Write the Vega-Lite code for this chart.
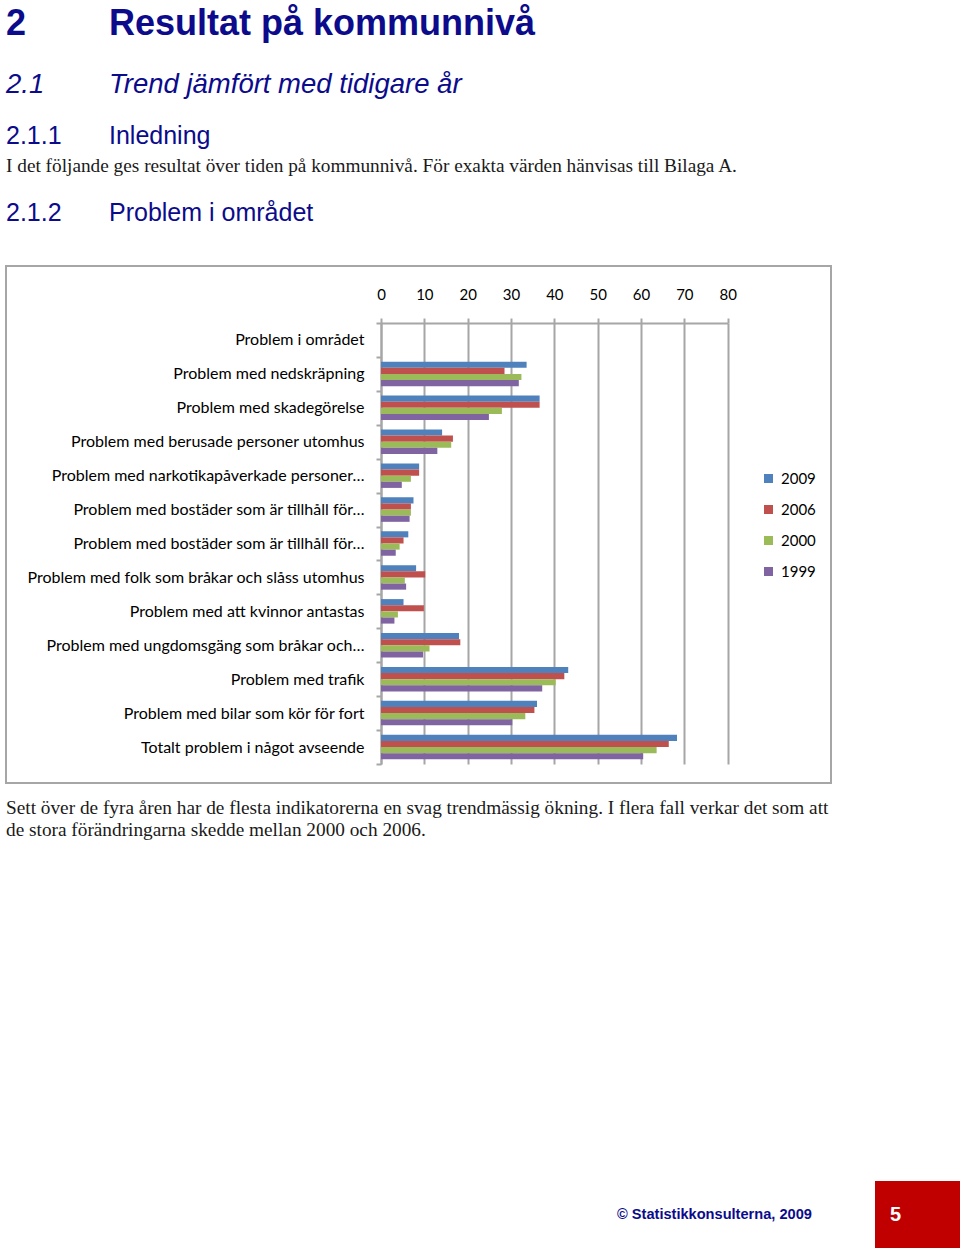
{
  "$schema": "https://vega.github.io/schema/vega-lite/v6.json",
  "padding": {"left": 5, "top": 0, "right": 0, "bottom": 0},
  "bounds": "flush",
  "spacing": 0,
  "config": {"view": {"stroke": null}, "concat": {"spacing": 0}},
  "vconcat": [
    {
      "width": 955, "height": 47,
      "data": {"values": [{"del": "nr", "text": "2"}, {"del": "rubrik", "text": "Resultat på kommunnivå"}]},
      "mark": {"type": "text", "align": "left", "baseline": "middle", "font": "Liberation Sans", "fontSize": 36, "fontWeight": "bold", "color": "#0b0b8c"},
      "encoding": {
        "x": {"field": "del", "type": "nominal", "scale": {"type": "point", "domain": ["nr", "rubrik"], "range": [0, 103], "padding": 0}, "axis": null},
        "text": {"field": "text"}
      }
    },
    {
      "width": 955, "height": 76,
      "data": {"values": [{"del": "nr", "text": "2.1"}, {"del": "rubrik", "text": "Trend jämfört med tidigare år"}]},
      "mark": {"type": "text", "align": "left", "baseline": "middle", "font": "Liberation Sans", "fontSize": 27.5, "fontStyle": "italic", "color": "#0b0b8c"},
      "encoding": {
        "x": {"field": "del", "type": "nominal", "scale": {"type": "point", "domain": ["nr", "rubrik"], "range": [0, 103], "padding": 0}, "axis": null},
        "text": {"field": "text"}
      }
    },
    {
      "width": 955, "height": 26,
      "data": {"values": [{"del": "nr", "text": "2.1.1"}, {"del": "rubrik", "text": "Inledning"}]},
      "mark": {"type": "text", "align": "left", "baseline": "middle", "font": "Liberation Sans", "fontSize": 25, "color": "#0b0b8c"},
      "encoding": {
        "x": {"field": "del", "type": "nominal", "scale": {"type": "point", "domain": ["nr", "rubrik"], "range": [0, 103], "padding": 0}, "axis": null},
        "text": {"field": "text"}
      }
    },
    {
      "width": 955, "height": 34,
      "data": {"values": [{"del": "nr", "text": "I det följande ges resultat över tiden på kommunnivå. För exakta värden hänvisas till Bilaga A."}]},
      "mark": {"type": "text", "align": "left", "baseline": "middle", "font": "Liberation Serif", "fontSize": 19.3, "color": "#1a1a1a"},
      "encoding": {
        "x": {"field": "del", "type": "nominal", "scale": {"type": "point", "domain": ["nr", "rubrik"], "range": [0, 103], "padding": 0}, "axis": null},
        "text": {"field": "text"}
      }
    },
    {
      "width": 955, "height": 60,
      "data": {"values": [{"del": "nr", "text": "2.1.2"}, {"del": "rubrik", "text": "Problem i området"}]},
      "mark": {"type": "text", "align": "left", "baseline": "middle", "font": "Liberation Sans", "fontSize": 25, "color": "#0b0b8c"},
      "encoding": {
        "x": {"field": "del", "type": "nominal", "scale": {"type": "point", "domain": ["nr", "rubrik"], "range": [0, 103], "padding": 0}, "axis": null},
        "text": {"field": "text"}
      }
    },
    {
      "width": 955, "height": 23,
      "data": {"values": []},
      "mark": {"type": "text"},
      "encoding": {}
    },
    {
      "width": 825, "height": 517,
      "view": {"stroke": "#A6A6A6", "strokeWidth": 2},
      "data": {"values": [
        {"kategori": "02 Problem med nedskräpning", "år": "2009", "andel": 33.6},
        {"kategori": "02 Problem med nedskräpning", "år": "2006", "andel": 28.5},
        {"kategori": "02 Problem med nedskräpning", "år": "2000", "andel": 32.4},
        {"kategori": "02 Problem med nedskräpning", "år": "1999", "andel": 31.8},
        {"kategori": "03 Problem med skadegörelse", "år": "2009", "andel": 36.6},
        {"kategori": "03 Problem med skadegörelse", "år": "2006", "andel": 36.6},
        {"kategori": "03 Problem med skadegörelse", "år": "2000", "andel": 27.9},
        {"kategori": "03 Problem med skadegörelse", "år": "1999", "andel": 24.9},
        {"kategori": "04 Problem med berusade personer utomhus", "år": "2009", "andel": 14.1},
        {"kategori": "04 Problem med berusade personer utomhus", "år": "2006", "andel": 16.6},
        {"kategori": "04 Problem med berusade personer utomhus", "år": "2000", "andel": 16.2},
        {"kategori": "04 Problem med berusade personer utomhus", "år": "1999", "andel": 13.0},
        {"kategori": "05 Problem med narkotikapåverkade personer…", "år": "2009", "andel": 8.8},
        {"kategori": "05 Problem med narkotikapåverkade personer…", "år": "2006", "andel": 8.8},
        {"kategori": "05 Problem med narkotikapåverkade personer…", "år": "2000", "andel": 6.9},
        {"kategori": "05 Problem med narkotikapåverkade personer…", "år": "1999", "andel": 4.8},
        {"kategori": "06 Problem med bostäder som är tillhåll för…", "år": "2009", "andel": 7.5},
        {"kategori": "06 Problem med bostäder som är tillhåll för…", "år": "2006", "andel": 6.9},
        {"kategori": "06 Problem med bostäder som är tillhåll för…", "år": "2000", "andel": 6.9},
        {"kategori": "06 Problem med bostäder som är tillhåll för…", "år": "1999", "andel": 6.6},
        {"kategori": "07 Problem med bostäder som är tillhåll för…", "år": "2009", "andel": 6.3},
        {"kategori": "07 Problem med bostäder som är tillhåll för…", "år": "2006", "andel": 5.2},
        {"kategori": "07 Problem med bostäder som är tillhåll för…", "år": "2000", "andel": 4.3},
        {"kategori": "07 Problem med bostäder som är tillhåll för…", "år": "1999", "andel": 3.4},
        {"kategori": "08 Problem med folk som bråkar och slåss utomhus", "år": "2009", "andel": 8.1},
        {"kategori": "08 Problem med folk som bråkar och slåss utomhus", "år": "2006", "andel": 10.2},
        {"kategori": "08 Problem med folk som bråkar och slåss utomhus", "år": "2000", "andel": 5.5},
        {"kategori": "08 Problem med folk som bråkar och slåss utomhus", "år": "1999", "andel": 5.8},
        {"kategori": "09 Problem med att kvinnor antastas", "år": "2009", "andel": 5.2},
        {"kategori": "09 Problem med att kvinnor antastas", "år": "2006", "andel": 9.9},
        {"kategori": "09 Problem med att kvinnor antastas", "år": "2000", "andel": 3.9},
        {"kategori": "09 Problem med att kvinnor antastas", "år": "1999", "andel": 3.1},
        {"kategori": "10 Problem med ungdomsgäng som bråkar och…", "år": "2009", "andel": 18.0},
        {"kategori": "10 Problem med ungdomsgäng som bråkar och…", "år": "2006", "andel": 18.3},
        {"kategori": "10 Problem med ungdomsgäng som bråkar och…", "år": "2000", "andel": 11.2},
        {"kategori": "10 Problem med ungdomsgäng som bråkar och…", "år": "1999", "andel": 9.7},
        {"kategori": "11 Problem med trafik", "år": "2009", "andel": 43.2},
        {"kategori": "11 Problem med trafik", "år": "2006", "andel": 42.3},
        {"kategori": "11 Problem med trafik", "år": "2000", "andel": 40.3},
        {"kategori": "11 Problem med trafik", "år": "1999", "andel": 37.2},
        {"kategori": "12 Problem med bilar som kör för fort", "år": "2009", "andel": 36.0},
        {"kategori": "12 Problem med bilar som kör för fort", "år": "2006", "andel": 35.4},
        {"kategori": "12 Problem med bilar som kör för fort", "år": "2000", "andel": 33.3},
        {"kategori": "12 Problem med bilar som kör för fort", "år": "1999", "andel": 30.3},
        {"kategori": "13 Totalt problem i något avseende", "år": "2009", "andel": 68.3},
        {"kategori": "13 Totalt problem i något avseende", "år": "2006", "andel": 66.4},
        {"kategori": "13 Totalt problem i något avseende", "år": "2000", "andel": 63.6},
        {"kategori": "13 Totalt problem i något avseende", "år": "1999", "andel": 60.5}
      ]},
      "mark": {"type": "bar"},
      "encoding": {
        "y": {
          "field": "kategori", "type": "nominal",
          "scale": {
            "domain": [
              "01 Problem i området",
              "02 Problem med nedskräpning",
              "03 Problem med skadegörelse",
              "04 Problem med berusade personer utomhus",
              "05 Problem med narkotikapåverkade personer…",
              "06 Problem med bostäder som är tillhåll för…",
              "07 Problem med bostäder som är tillhåll för…",
              "08 Problem med folk som bråkar och slåss utomhus",
              "09 Problem med att kvinnor antastas",
              "10 Problem med ungdomsgäng som bråkar och…",
              "11 Problem med trafik",
              "12 Problem med bilar som kör för fort",
              "13 Totalt problem i något avseende"
            ],
            "range": [57, 498], "paddingInner": 0, "paddingOuter": 0
          },
          "axis": {
            "orient": "left", "offset": -375, "title": null,
            "labelExpr": "substring(datum.label, 3)",
            "tickBand": "extent", "tickSize": 5, "tickColor": "#A6A6A6", "tickWidth": 2,
            "domainColor": "#A6A6A6", "domainWidth": 2,
            "labelPadding": 12, "labelFont": "Lato", "labelFontSize": 16, "labelColor": "#000000", "labelLimit": 0,
            "grid": false
          }
        },
        "x": {
          "field": "andel", "type": "quantitative",
          "scale": {"domain": [0, 80], "range": [375, 721.7], "nice": false},
          "axis": {
            "orient": "top", "offset": -57, "title": null,
            "values": [0, 10, 20, 30, 40, 50, 60, 70, 80],
            "grid": true, "gridColor": "#A6A6A6", "gridWidth": 2,
            "domainColor": "#A6A6A6", "domainWidth": 2,
            "tickColor": "#A6A6A6", "tickWidth": 2, "tickSize": 5,
            "labelPadding": 16, "labelFont": "Lato", "labelFontSize": 15, "labelColor": "#000000", "labelFlush": false
          }
        },
        "yOffset": {
          "field": "år", "type": "nominal", "sort": ["2009", "2006", "2000", "1999"],
          "scale": {"paddingInner": 0, "paddingOuter": 0.77}
        },
        "color": {
          "field": "år", "type": "nominal",
          "scale": {"domain": ["2009", "2006", "2000", "1999"], "range": ["#4F81BD", "#C0504D", "#9BBB59", "#8064A2"]},
          "legend": {
            "orient": "none", "legendX": 755, "legendY": 471, "title": null, "padding": 0,
            "symbolType": "square", "symbolSize": 81, "symbolStrokeWidth": 0,
            "labelFont": "Lato", "labelFontSize": 15, "labelColor": "#000000", "rowPadding": 15, "labelOffset": 5
          }
        }
      }
    },
    {
      "width": 955, "height": 398,
      "data": {"values": [
        {"del": "nr", "rad": "1", "text": "Sett över de fyra åren har de flesta indikatorerna en svag trendmässig ökning. I flera fall verkar det som att"},
        {"del": "nr", "rad": "2", "text": "de stora förändringarna skedde mellan 2000 och 2006."}
      ]},
      "mark": {"type": "text", "align": "left", "baseline": "middle", "font": "Liberation Serif", "fontSize": 19.3, "color": "#1a1a1a"},
      "encoding": {
        "x": {"field": "del", "type": "nominal", "scale": {"type": "point", "domain": ["nr", "rubrik"], "range": [0, 103], "padding": 0}, "axis": null},
        "y": {"field": "rad", "type": "nominal", "scale": {"type": "point", "domain": ["1", "2"], "range": [25, 47], "padding": 0}, "axis": null},
        "text": {"field": "text"}
      }
    },
    {
      "bounds": "flush",
      "spacing": 0,
      "hconcat": [
        {
          "width": 869, "height": 67,
          "data": {"values": [{"del": "copyright", "text": "© Statistikkonsulterna, 2009"}]},
          "mark": {"type": "text", "align": "left", "baseline": "middle", "font": "Liberation Sans", "fontSize": 14.6, "fontWeight": "bold", "color": "#0b0b8c"},
          "encoding": {
            "x": {"field": "del", "type": "nominal", "scale": {"type": "point", "domain": ["nr", "copyright"], "range": [0, 611], "padding": 0}, "axis": null},
            "text": {"field": "text"}
          }
        },
        {
          "width": 86, "height": 67,
          "view": {"fill": "#C00000", "stroke": null},
          "data": {"values": [{"del": "sida", "text": "5"}]},
          "mark": {"type": "text", "align": "left", "baseline": "middle", "font": "Liberation Sans", "fontSize": 20, "fontWeight": "bold", "color": "#ffffff"},
          "encoding": {
            "x": {"field": "del", "type": "nominal", "scale": {"type": "point", "domain": ["nr", "sida"], "range": [0, 15], "padding": 0}, "axis": null},
            "text": {"field": "text"}
          }
        }
      ]
    }
  ]
}
